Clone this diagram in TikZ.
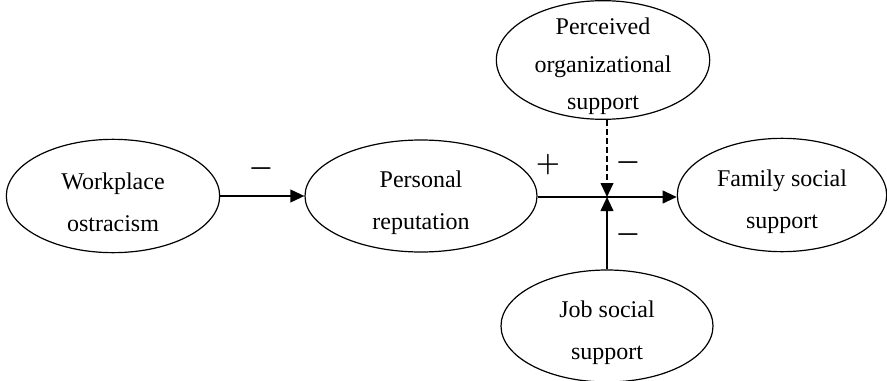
\documentclass[tikz,border=0pt]{standalone}
\usepackage{fontspec}
\setmainfont{Liberation Serif}
\usetikzlibrary{shapes.geometric}
\usetikzlibrary{arrows.meta}

\newcommand{\toprule}{\rule{0pt}{22pt}}

\begin{document}
\begin{tikzpicture}[x=0.75pt,y=-0.75pt]
	\tikzstyle{construct}=[ellipse,draw,line width=0.9pt,inner sep=-20pt,align=center,
		font=\fontsize{18}{31.5}\selectfont]
	\tikzstyle{path edge}=[-{Triangle[length=10.5pt,width=9.5pt]},black,line width=1.4pt]
	\tikzstyle{moderator edge}=[path edge,dash pattern=on 4.5pt off 2.25pt]
	\tikzstyle{sign}=[font=\fontsize{20}{22}\selectfont\boldmath]

	\useasboundingbox (0,0) rectangle (887,381);

	\node[construct,minimum width=160pt,minimum height=85pt] (wo) at (113,196) {\toprule Workplace\\ostracism};
	\node[construct,minimum width=174pt,minimum height=84pt] (pr) at (421,196) {\toprule Personal\\reputation};
	\node[construct,minimum width=160pt,minimum height=89pt,font=\fontsize{18}{28}\selectfont] (pos) at (603,60) {\toprule Perceived\\organizational\\support};
	\node[construct,minimum width=157pt,minimum height=85pt] (fss) at (782,195) {\toprule Family social\\support};
	\node[construct,minimum width=159pt,minimum height=84pt] (jss) at (607,326) {\toprule Job social\\support};
	\coordinate (mid) at (607,197);

	\draw[path edge] (wo) -- (pr);
	\draw[path edge] (pr.east |- mid) -- (fss.west |- mid);
	\draw[moderator edge] (pos.south -| mid) -- (mid);
	\draw[path edge] (jss.north -| mid) -- (mid);

	\node[sign] (s1) at (261,169) {$-$};
	\node[sign] (s2) at (548,165) {$+$};
	\node[sign] (s3) at (628,163) {$-$};
	\node[sign] (s4) at (628,235) {$-$};
\end{tikzpicture}
\end{document}
